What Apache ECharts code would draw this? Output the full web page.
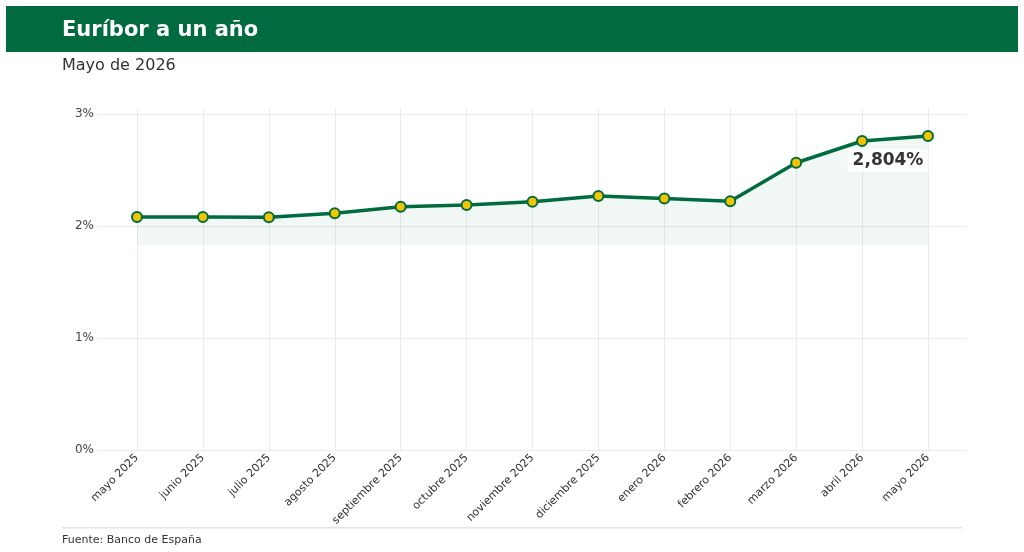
<!DOCTYPE html>
<html>
<head>
<meta charset="utf-8">
<script src="https://cdn.jsdelivr.net/npm/echarts@6/dist/echarts.min.js"></script>
<style>
html,body{margin:0;padding:0;background:#fff;}
#chart{width:1024px;height:552px;}
</style>
</head>
<body>
<div id="chart"></div>
<script>
// datos
var months = ['mayo 2025','junio 2025','julio 2025','agosto 2025','septiembre 2025','octubre 2025',
    'noviembre 2025','diciembre 2025','enero 2026','febrero 2026','marzo 2026','abril 2026','mayo 2026'];
var euribor = [2.081, 2.081, 2.079, 2.114, 2.172, 2.187, 2.217, 2.267, 2.245, 2.221, 2.565, 2.759, 2.804];
var yTicks = [0, 1, 2, 3];
var areaBase = 1.83;

var green = '#006b3f';
var font = 'DejaVu Sans';

var chart = echarts.init(document.getElementById('chart'));

var seriesData = euribor.map(function(v, i) {
    if (i == euribor.length - 1) {
        return {
            value: v,
            label: {
                show: true,
                formatter: function(p) { return p.value.toFixed(3).replace('.', ',') + '%'; },
                position: 'bottom',
                offset: [-40, 2],
                fontFamily: font,
                fontSize: 17,
                fontWeight: 'bold',
                color: '#333',
                backgroundColor: 'rgba(255,255,255,0.85)',
                padding: [3, 5],
                borderRadius: 2
            }
        };
    }
    return v;
});

var option = {
    backgroundColor: '#fff',
    animation: false,
    textStyle: {fontFamily: font},
    graphic: [
        {type: 'rect', shape: {x: 6, y: 6, width: 1012, height: 46}, style: {fill: green}},
        {type: 'text', left: 62, top: 20, style: {text: 'Euríbor a un año', fill: '#fff', font: 'bold 21px "DejaVu Sans"'}},
        {type: 'text', left: 62, top: 58, style: {text: 'Mayo de 2026', fill: '#333', font: '16px "DejaVu Sans"'}},
        {type: 'rect', shape: {x: 62, y: 527, width: 900, height: 1.5}, style: {fill: '#e3e3e3'}},
        {type: 'text', left: 62, top: 535, style: {text: 'Fuente: Banco de España', fill: '#333', font: '11px "DejaVu Sans"'}}
    ],
    grid: [
        {left: 98, right: 58, top: 114, bottom: 102, containLabel: false},
        {left: 137, right: 96, top: 108, bottom: 102, containLabel: false}
    ],
    xAxis: [
        {type: 'category', gridIndex: 0, data: months, show: false},
        {
            type: 'category', gridIndex: 1, data: months, boundaryGap: false,
            axisLine: {show: false}, axisTick: {show: false},
            axisLabel: {rotate: 45, fontSize: 11, color: '#333', margin: 6, interval: 0, fontFamily: font},
            splitLine: {show: true, lineStyle: {color: '#ebebeb', width: 1}}
        }
    ],
    yAxis: [
        {
            type: 'value', gridIndex: 0, min: 0, max: 3, interval: 1,
            axisLine: {show: false}, axisTick: {show: false},
            axisLabel: {formatter: function(v) { return yTicks.indexOf(v) >= 0 ? v + '%' : ''; },
                fontSize: 12, color: '#444', margin: 4, fontFamily: font},
            splitLine: {show: true, lineStyle: {color: '#ebebeb', width: 1}}
        },
        {type: 'value', gridIndex: 1, min: 0, max: 3.0536, show: false, splitLine: {show: false}}
    ],
    series: [
        {
            type: 'line',
            xAxisIndex: 1,
            yAxisIndex: 1,
            data: seriesData,
            symbol: 'circle',
            symbolSize: 10,
            lineStyle: {color: green, width: 3.5},
            itemStyle: {color: '#f2c500', borderColor: green, borderWidth: 2},
            areaStyle: {color: 'rgba(0,120,60,0.085)', origin: areaBase},
            z: 3
        }
    ]
};

chart.setOption(option);
</script>
</body>
</html>
